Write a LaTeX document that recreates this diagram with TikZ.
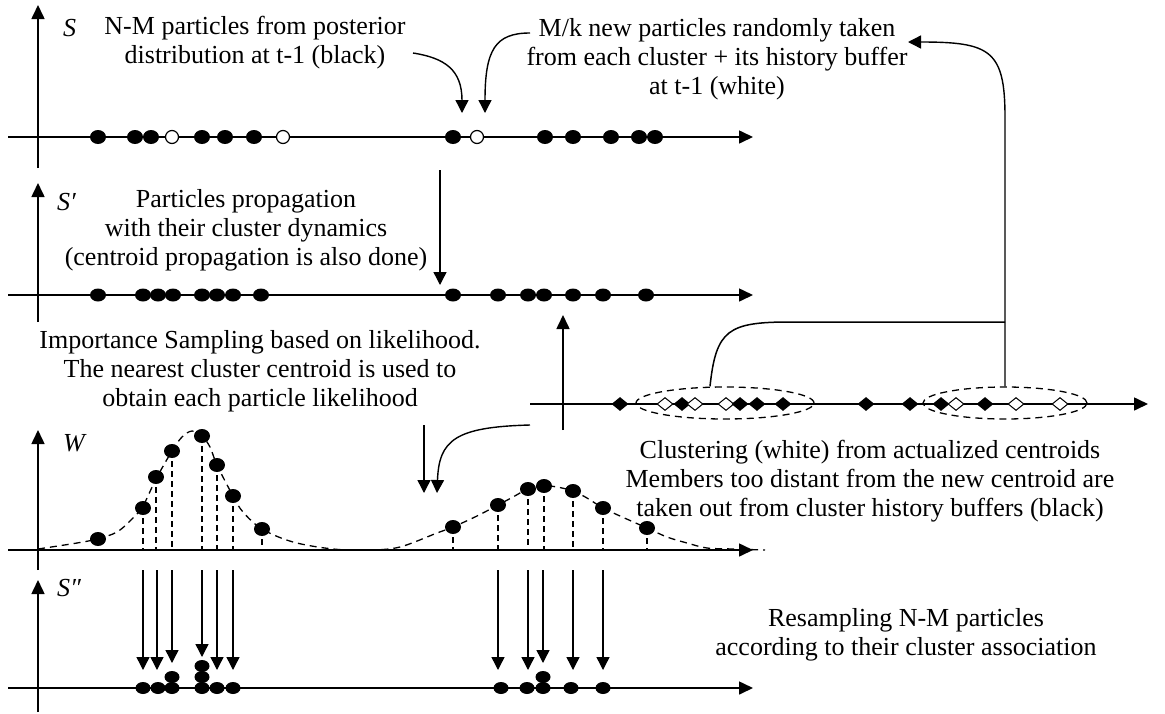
\documentclass[tikz,border=0pt]{standalone}
\usepackage{fontspec}
\setmainfont{Liberation Serif}
\usetikzlibrary{arrows.meta,shapes.geometric}
\begin{document}
\begin{tikzpicture}[x=1pt,y=-1pt,
  font=\fontsize{26}{29}\selectfont,
  axis/.style={line width=1.6pt,-{Triangle[width=13pt,length=14pt]}},
  plain/.style={line width=1.5pt},
  conn/.style={line width=1.4pt,-{Triangle[width=13pt,length=13pt]}},
  bdot/.style={ellipse,fill=black,inner sep=0pt,minimum width=16pt,minimum height=14pt},
  wdot/.style={circle,draw=black,fill=white,line width=1.2pt,inner sep=0pt,minimum size=13pt},
  sdot/.style={ellipse,fill=black,inner sep=0pt,minimum width=16pt,minimum height=13pt},
  rdot/.style={ellipse,fill=black,inner sep=0pt,minimum width=15pt,minimum height=12pt},
  bdia/.style={diamond,fill=black,inner sep=0pt,minimum width=17pt,minimum height=14pt},
  wdia/.style={diamond,draw=black,fill=white,line width=1pt,inner sep=0pt,minimum width=16pt,minimum height=13pt},
  stem/.style={line width=1.2pt,dash pattern=on 6pt off 4pt},
  gcurve/.style={line width=1.3pt,dash pattern=on 7pt off 5pt},
  clus/.style={ellipse,draw,line width=1.3pt,dash pattern=on 7pt off 5pt,inner sep=0pt},
  lbl/.style={inner sep=0pt,anchor=west,font=\fontsize{26}{29}\selectfont\itshape},
  txt/.style={align=center,inner sep=0pt}
]
\fill[white] (0,0) rectangle (1165,713);
\useasboundingbox (0,0) rectangle (1165,713);

% ---------- texts ----------
\node[txt] (t1) at (255,43) {N-M particles from posterior\\distribution at t-1 (black)};
\node[txt] (t2) at (717,59) {M/k new particles randomly taken\\from each cluster + its history buffer\\at t-1 (white)};
\node[txt] (t3) at (246,230) {Particles propagation\\with their cluster dynamics\\(centroid propagation is also done)};
\node[txt] (t4) at (260,371) {Importance Sampling based on likelihood.\\The nearest cluster centroid is used to\\obtain each particle likelihood};
\node[txt] (t5) at (870,481) {Clustering (white) from actualized centroids\\Members too distant from the new centroid are\\taken out from cluster history buffers (black)};
\node[txt] (t6) at (906,635) {Resampling N-M particles\\according to their cluster association};

% ---------- axis labels ----------
\node[lbl] (lS) at (63,28) {S};
\node[lbl] (lS1) at (57,202) {S′};
\node[lbl] (lW) at (63,443) {W};
\node[lbl] (lS2) at (57,588) {S″};

% ---------- row 1 : S ----------
\draw[axis] (8,137) -- (753,137);
\draw[axis] (38,168) -- (38,5);
\foreach \x [count=\i] in {98,135,151,202,225,254,453,545,573,611,639,655}
  \node[bdot] (a\i) at (\x,137) {};
\foreach \x [count=\i] in {172,283,477}
  \node[wdot] (aw\i) at (\x,137) {};

% ---------- row 2 : S' ----------
\draw[axis] (8,295) -- (753,295);
\draw[axis] (38,322) -- (38,183);
\foreach \x [count=\i] in {98,143,158,173,202,217,233,261,453,498,528,544,573,603,646}
  \node[sdot] (b\i) at (\x,295) {};

% ---------- clustering ----------
\draw[axis] (530,404) -- (1148,404);
\draw[axis] (563,430) -- (563,315);
\node[clus,minimum width=178pt,minimum height=32pt] (e1) at (725,403) {};
\node[clus,minimum width=164pt,minimum height=32pt] (e2) at (1005,403) {};
\foreach \x/\t [count=\i] in {620/b,665/w,682/b,695/w,726/w,740/b,757/b,783/b,866/b,910/b,941/b,956/w,985/b,1016/w,1060/w}
  \node[\t dia] (c\i) at (\x,404) {};

% ---------- W ----------
\draw[axis] (8,550) -- (753,550);
\draw[axis] (38,570) -- (38,430);
\draw[gcurve] plot[smooth,tension=0.55] coordinates {(38,549) (77,543) (97,539) (117,532) (133,518) (143,506) (156,479) (172,451) (182,437) (192,431) (202,436) (210,447) (217,465) (233,496) (243,512) (262,529) (293,542) (333,549) (370,550) (400,547) (437,533) (453,527) (477,516) (498,505) (513,497) (528,489) (544,486) (557,487) (573,491) (587,498) (603,508) (620,516) (647,528) (667,537) (687,543) (707,548) (733,549) (765,550)};
\coordinate (wax) at (0,550);
\foreach \x/\y [count=\i] in {98/539,143/508,156/477,172/451,202/436,217/465,233/496,262/529,453/527,498/505,528/489,544/486,573/491,603/508,647/528}
{
  \node[bdot] (w\i) at (\x,\y) {};
  \draw[stem] (w\i.center) -- (w\i.center |- wax);
}

% ---------- S'' ----------
\draw[axis] (8,688) -- (753,688);
\draw[axis] (38,712) -- (38,580);
\foreach \x/\y [count=\i] in {143/688,158/688,172/688,172/677,202/688,202/677,202/666,217/688,233/688,501/688,527/688,543/688,543/677,571/688,603/688}
  \node[rdot] (r\i) at (\x,\y) {};
\foreach \x/\y [count=\i] in {143/670,157/670,172/663,202/657,217/670,233/670,498/670,528/670,543/663,573/670,603/670}
{
  \coordinate (ds\i) at (\x,570);
  \coordinate (de\i) at (\x,\y);
  \draw[conn] (ds\i) -- (de\i);
}

% ---------- connectors ----------
\coordinate (k1s) at (413,53);
\coordinate (k1e) at (462,113);
\draw[conn] (k1s) .. controls (445,58) and (462,70) .. (k1e);
\coordinate (k2s) at (530,33);
\coordinate (k2e) at (485,113);
\draw[conn] (k2s) .. controls (495,33) and (485,50) .. (k2e);

\coordinate (d1s) at (440,170);
\coordinate (d1e) at (440,285);
\draw[conn] (d1s) -- (d1e);

\coordinate (d2s) at (424,425);
\coordinate (d2e) at (424,493);
\draw[conn] (d2s) -- (d2e);
\coordinate (d3s) at (530,425);
\coordinate (d3e) at (437,493);
\draw[conn] (d3s) .. controls (455,427) and (439,440) .. (d3e);

\coordinate (j) at (1005,322);
\draw[plain] ([xshift=-15pt]e1.north) .. controls (716,330) and (728,322) .. (790,322) -- (j);
\coordinate (bt) at (908,42);
\draw[conn] (e2.north) -- (1005,117) .. controls (1005,50) and (990,42) .. (bt);
\end{tikzpicture}
\end{document}
